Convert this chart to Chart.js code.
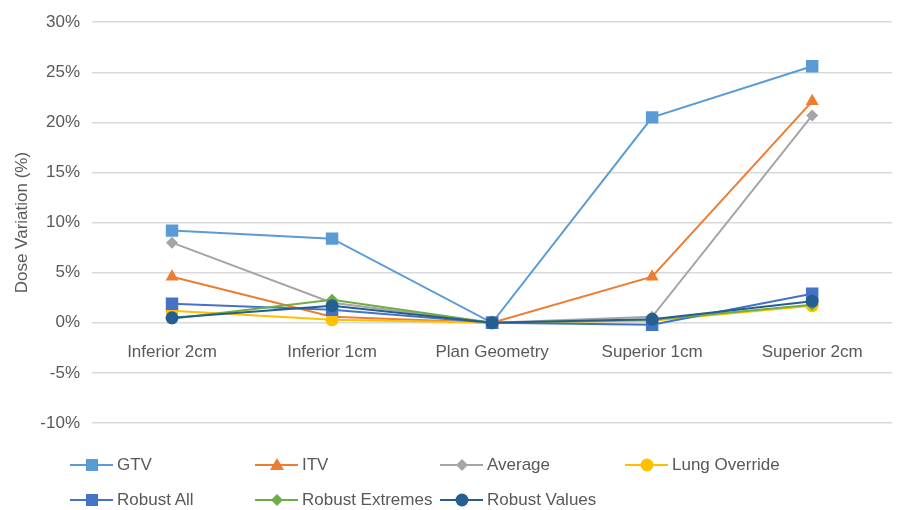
<!DOCTYPE html>
<html>
<head>
<meta charset="utf-8">
<script src="https://cdn.jsdelivr.net/npm/chart.js@4/dist/chart.umd.min.js"></script>
<style>
  html, body { margin: 0; padding: 0; background: #fff; }
  #wrap { position: relative; width: 901px; height: 510px; }
  #legend { position: absolute; left: 0; top: 0; width: 901px; height: 510px; pointer-events: none; }
  .item { position: absolute; display: flex; align-items: center; font: 17px "Liberation Sans", Arial, sans-serif; color: #595959; white-space: nowrap; }
  .item svg { margin-right: 4px; }
</style>
</head>
<body>
<div id="wrap">
  <canvas id="chart" width="901" height="510"></canvas>
  <div id="legend"></div>
</div>
<script>
const categories = ["Inferior 2cm", "Inferior 1cm", "Plan Geometry", "Superior 1cm", "Superior 2cm"];
const gtv = [9.2, 8.4, 0, 20.5, 25.6];
const itv = [4.6, 0.6, 0, 4.6, 22.1];
const average = [8.0, 2.0, 0, 0.6, 20.7];
const lungOverride = [1.2, 0.3, 0, 0.2, 1.7];
const robustAll = [1.9, 1.3, 0, -0.2, 2.9];
const robustExtremes = [0.4, 2.3, 0, 0.3, 1.8];
const robustValues = [0.5, 1.7, 0, 0.35, 2.15];

const series = [
  { label: "GTV", data: gtv, color: "#5B9BD5", point: "rect", r: 8.8 },
  { label: "ITV", data: itv, color: "#ED7D31", point: "triangle", r: 7.5 },
  { label: "Average", data: average, color: "#A5A5A5", point: "rectRot", r: 6 },
  { label: "Lung Override", data: lungOverride, color: "#FFC000", point: "circle", r: 6.5 },
  { label: "Robust All", data: robustAll, color: "#4472C4", point: "rect", r: 8.8 },
  { label: "Robust Extremes", data: robustExtremes, color: "#70AD47", point: "rectRot", r: 6 },
  { label: "Robust Values", data: robustValues, color: "#255E91", point: "circle", r: 6.5 },
];

const font = { family: "'Liberation Sans', Arial, sans-serif", size: 17 };

const datasets = series.map((s, i) => ({
  label: s.label,
  data: s.data,
  borderColor: s.color,
  backgroundColor: s.color,
  borderWidth: 2,
  pointStyle: s.point,
  pointRadius: s.r,
  pointBorderWidth: 0,
  pointHoverRadius: s.r,
  tension: 0,
  order: series.length - i,
}));

const chart = new Chart(document.getElementById("chart"), {
  type: "line",
  data: { labels: categories, datasets: datasets },
  options: {
    responsive: false,
    animation: false,
    layout: { padding: { top: 6, bottom: 87, right: 4, left: 12 } },
    plugins: { legend: { display: false }, tooltip: { enabled: false } },
    scales: {
      x: {
        offset: true,
        position: { y: 0 },
        afterFit: (scale) => { scale.paddingLeft = 0; scale.paddingRight = 0; },
        grid: { display: false, offset: true },
        border: { display: false },
        ticks: { color: "#595959", font: font, padding: 11, maxRotation: 0 },
      },
      y: {
        min: -10,
        max: 30,
        afterFit: (scale) => { scale.width = 80; },
        ticks: { stepSize: 5, color: "#595959", font: font, padding: 12, callback: (v) => v + "%" },
        grid: { color: "#d9d9d9", lineWidth: 1.5, drawTicks: false },
        border: { display: false },
        title: { display: true, text: "Dose Variation (%)", color: "#595959", font: font, padding: { top: 0, bottom: 8 } },
      },
    },
  },
});

// legend in Excel-like columns
const legendCols = [70, 255, 440, 625];
const legendRows = [465, 500];
const legend = document.getElementById("legend");
series.forEach((s, i) => {
  const div = document.createElement("div");
  div.className = "item";
  div.style.left = legendCols[i % 4] + "px";
  div.style.top = (legendRows[Math.floor(i / 4)] - 11) + "px";
  let mark = "";
  const c = s.color;
  if (s.point === "rect") mark = `<rect x="16" y="5" width="12" height="12" fill="${c}"/>`;
  else if (s.point === "triangle") mark = `<polygon points="22,4 29,16 15,16" fill="${c}"/>`;
  else if (s.point === "rectRot") mark = `<polygon points="22,5 28,11 22,17 16,11" fill="${c}"/>`;
  else mark = `<circle cx="22" cy="11" r="6.5" fill="${c}"/>`;
  div.innerHTML = `<svg width="43" height="22"><line x1="0" y1="11" x2="43" y2="11" stroke="${c}" stroke-width="2"/>${mark}</svg><span>${s.label}</span>`;
  legend.appendChild(div);
});
</script>
</body>
</html>
